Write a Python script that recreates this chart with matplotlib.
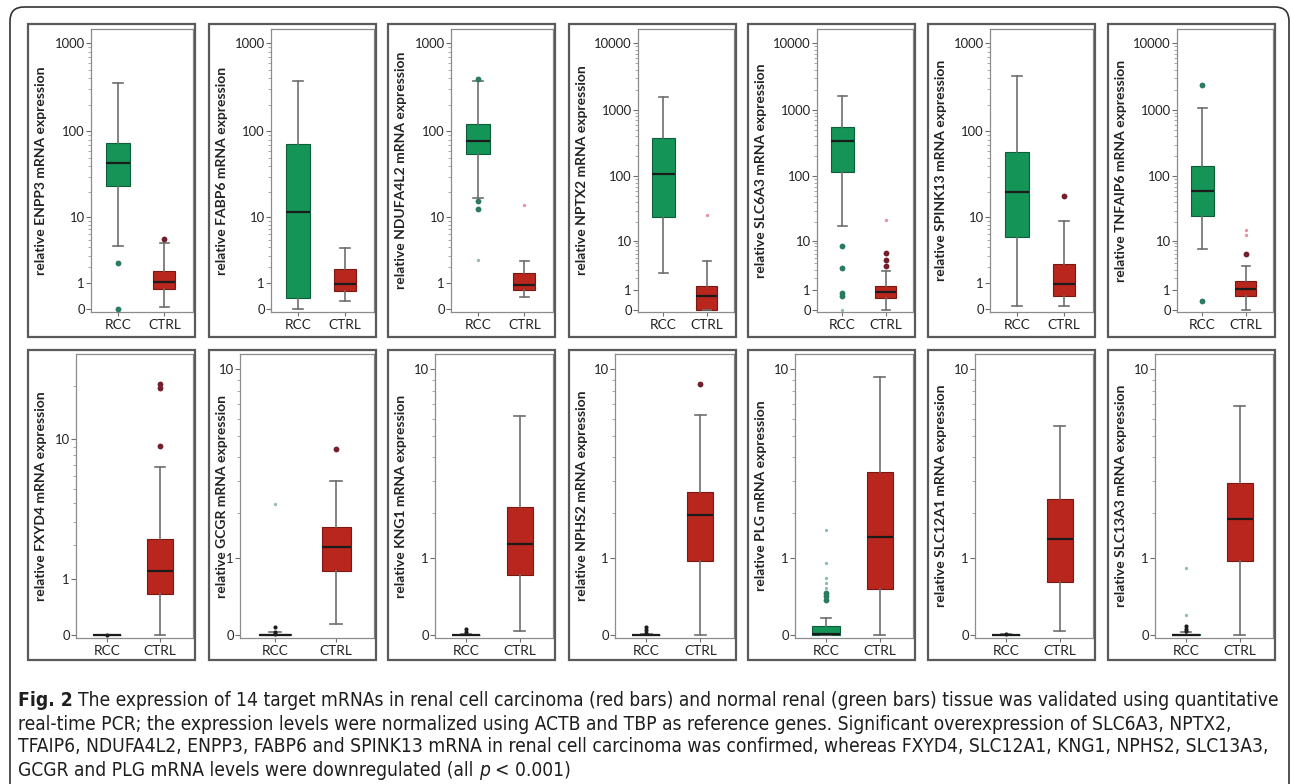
import numpy as np
import matplotlib
matplotlib.use("Agg")
import matplotlib.pyplot as plt
from matplotlib.patches import Rectangle, FancyBboxPatch
from matplotlib.transforms import IdentityTransform
from matplotlib.ticker import FixedLocator, FixedFormatter, NullFormatter

W, H = 1292, 784

# ---- data (relative expression, RCC vs CTRL) ----
genes_top = ["ENPP3", "FABP6", "NDUFA4L2", "NPTX2", "SLC6A3", "SPINK13", "TNFAIP6"]
genes_bot = ["FXYD4", "GCGR", "KNG1", "NPHS2", "PLG", "SLC12A1", "SLC13A3"]
genes = genes_top + genes_bot

# box stats: whisker low, q1, median, q3, whisker high
rcc_box = [
    [4.2, 23.8, 43.3, 73.5, 353],
    [0.0, 0.35, 11.6, 72, 375],
    [16.9, 56, 78, 122, 369],
    [2.56, 23.8, 109, 383, 1570],
    [17, 117, 341, 561, 1625],
    [0.09, 5.5, 20.2, 58, 430],
    [7.3, 25, 61, 143, 1085],
    [0, 0, 0, 0.005, 0.01],
    [0, 0, 0.005, 0.015, 0.03],
    [0, 0, 0, 0.005, 0.01],
    [0, 0, 0, 0.005, 0.01],
    [0, 0, 0.015, 0.085, 0.17],
    [0, 0, 0, 0.005, 0.01],
    [0, 0, 0.005, 0.015, 0.03],
]
ctrl_box = [
    [0.07, 0.68, 1.05, 1.73, 4.55],
    [0.25, 0.6, 0.93, 1.88, 3.88],
    [0.39, 0.65, 0.88, 1.55, 2.54],
    [0, 0, 0.62, 1.30, 4.34],
    [0, 0.5, 0.84, 1.32, 2.9],
    [0.1, 0.41, 0.91, 2.25, 9.0],
    [0, 0.62, 1.05, 1.76, 3.65],
    [0, 0.66, 1.19, 2.26, 6.77],
    [0.11, 0.78, 1.21, 1.66, 3.0],
    [0.04, 0.72, 1.27, 2.17, 6.2],
    [0, 0.95, 1.96, 2.63, 6.3],
    [0, 0.52, 1.42, 3.34, 9.2],
    [0.04, 0.61, 1.38, 2.41, 5.58],
    [0, 0.95, 1.85, 2.94, 6.9],
]
# outliers
rcc_out = [[2.3, 0], [], [392, 15.7, 12.5], [], [8.2, 3.24, 0.8, 0.65], [], [2350, 0.38],
           [], [], [], [], [0.46, 0.43, 0.37], [], []]
rcc_far = [[], [], [2.6], [], [0], [], [],
           [], [2.26], [], [], [1.58, 0.91, 0.67, 0.6, 0.53], [], [0.84, 0.2]]
rcc_low = [[], [], [], [], [], [], [],
           [0.0], [0.08, 0.03, 0.01], [0.06, 0.03], [0.08, 0.05, 0.02], [], [0.01], [0.09, 0.06, 0.04]]
ctrl_out = [[5.27], [], [], [], [6.2, 4.65, 3.64], [17.7], [5.9],
            [20.5, 19.5, 9.1], [4.37], [], [8.6], [], [], []]
ctrl_far = [[], [], [14.0], [26], [21.6], [], [14.6, 12.5],
            [], [], [], [], [], [], []]

groups = ["RCC", "CTRL"]
ymax = [1440, 1440, 1440, 16400, 16400, 1440, 16400,
        30, 11.6, 11.6, 11.6, 11.6, 11.6, 11.6]

caption_lines = [
    [("Fig. 2", "bold", "normal"),
     ("The expression of 14 target mRNAs in renal cell carcinoma (red bars) and normal renal "
      "(green bars) tissue was validated using quantitative", "normal", "normal")],
    [("real-time PCR; the expression levels were normalized using ACTB and TBP as reference "
      "genes. Significant overexpression of SLC6A3, NPTX2,", "normal", "normal")],
    [("TFAIP6, NDUFA4L2, ENPP3, FABP6 and SPINK13 mRNA in renal cell carcinoma was confirmed, "
      "whereas FXYD4, SLC12A1, KNG1, NPHS2, SLC13A3,", "normal", "normal")],
    [("GCGR and PLG mRNA levels were downregulated (all", "normal", "normal"),
     ("p", "normal", "italic"),
     ("< 0.001)", "normal", "normal")],
]

# ---- styling ----
GREEN, GREEN_EDGE, GREEN_PT = "#149557", "#0d5e38", "#2b7a62"
RED, RED_EDGE, RED_PT = "#b8261d", "#7c1812", "#74202c"
FONT = ["Lato", "DejaVu Sans"]
CAP_FONT = ["Liberation Sans Narrow", "DejaVu Sans"]


def fwd(v):
    return np.log10(np.clip(v, -0.99, None) + 1)


def inv(t):
    return 10 ** t - 1


fig = plt.figure(figsize=(W / 100, H / 100), dpi=100)
ident = IdentityTransform()

# outer rounded frame
fig.add_artist(FancyBboxPatch((10, -30), 1279, H - 7 + 30,
                              boxstyle="round,pad=0,rounding_size=14",
                              transform=ident, fill=False, ec="#333333", lw=1.2))

outer_left = [28, 209, 388, 569, 748, 928, 1108]
outer_w = 167
inner_left = [[91, 271, 451, 638, 817, 990, 1177],
              [76, 240, 435, 615, 795, 975, 1155]]
rows = [(24, 337, 29, 312), (350, 660, 354, 638)]

for i, gene in enumerate(genes):
    r, c = divmod(i, 7)
    oy0, oy1, iy0, iy1 = rows[r]
    ox0 = outer_left[c]
    fig.add_artist(Rectangle((ox0, H - oy1), outer_w, oy1 - oy0, transform=ident,
                             fill=False, ec="#5a5a5a", lw=1.6))
    ix0 = inner_left[r][c]
    ix1 = ox0 + outer_w - 2
    ax = fig.add_axes([ix0 / W, 1 - iy1 / H, (ix1 - ix0) / W, (iy1 - iy0) / H])
    ax.set_yscale("function", functions=(fwd, inv))

    for pos, box, fc, ec, wd in [(1, rcc_box[i], GREEN, GREEN_EDGE, 0.52),
                                 (2, ctrl_box[i], RED, RED_EDGE, 0.48)]:
        lo, q1, med, q3, hi = box
        ax.bxp([dict(whislo=lo, q1=q1, med=med, q3=q3, whishi=hi)], positions=[pos],
               widths=wd, capwidths=0.2, patch_artist=True, showfliers=False,
               manage_ticks=False,
               boxprops=dict(facecolor=fc, edgecolor=ec, lw=0.8),
               medianprops=dict(color="#1b1b1b", lw=1.6),
               whiskerprops=dict(color="#6e6e6e", lw=1.2),
               capprops=dict(color="#6e6e6e", lw=1.2))

    ax.plot([1] * len(rcc_out[i]), rcc_out[i], "o", ms=4.2, color=GREEN_PT, mec="none", zorder=4)
    ax.plot([1] * len(rcc_far[i]), rcc_far[i], "o", ms=2.4, color="#8fbfa8", mec="none", zorder=4)
    ax.plot([1] * len(rcc_low[i]), rcc_low[i], "o", ms=3.0, color="#1e1e1e", mec="none", zorder=4)
    ax.plot([2] * len(ctrl_out[i]), ctrl_out[i], "o", ms=4.2, color=RED_PT, mec="none", zorder=4)
    ax.plot([2] * len(ctrl_far[i]), ctrl_far[i], "o", ms=2.4, color="#ec8f9e", mec="none", zorder=4)

    top = ymax[i]
    lo_t = -0.03 if r == 0 else (-0.014 if top > 20 else -0.0105)
    ax.set_ylim(inv(lo_t), top)
    ax.set_xlim(0.42, 2.62)

    major = [0] + [10 ** k for k in range(0, 5) if 10 ** k < top]
    ax.yaxis.set_major_locator(FixedLocator(major))
    ax.yaxis.set_major_formatter(FixedFormatter([str(v) for v in major]))
    minor = [m * 10 ** k for k in range(0, 5) for m in range(2, 10) if m * 10 ** k < top]
    ax.yaxis.set_minor_locator(FixedLocator(minor))
    ax.yaxis.set_minor_formatter(NullFormatter())

    ax.set_xticks([1, 2])
    ax.set_xticklabels(groups, fontsize=9.8, family=FONT, color="#222222")
    for lab in ax.get_yticklabels():
        lab.set_family(FONT)
    ax.tick_params(axis="y", which="major", length=3.5, width=0.8, color="#6e6e6e",
                   labelsize=9.4, labelcolor="#222222", pad=0.8)
    ax.tick_params(axis="y", which="minor", length=2, width=0.6, color="#9a9a9a")
    ax.tick_params(axis="x", length=3, width=0.8, color="#6e6e6e", pad=2)
    for s in ax.spines.values():
        s.set_color("#8c8c8c")
        s.set_linewidth(0.9)

    fig.text((ox0 + 13) / W, 1 - (iy0 + iy1) / 2 / H, f"relative {gene} mRNA expression",
             rotation=90, ha="center", va="center", fontsize=10, fontweight="bold",
             family=FONT, color="#222222")

# ---- caption, drawn run by run ----
renderer = fig.canvas.get_renderer()


def text_width(s, size, weight="normal", style="normal"):
    t = fig.text(0, 0, s, fontsize=size, fontweight=weight, fontstyle=style,
                 fontstretch="condensed", family=CAP_FONT, transform=ident)
    w = t.get_window_extent(renderer).width
    t.remove()
    return w


base = 14
first_w = sum(text_width(s, base, w, st) for s, w, st in caption_lines[0])
space_w = text_width("x x", base) - text_width("xx", base)
first_w += space_w * (len(caption_lines[0]) - 1)
size = base * 1272 / first_w
space_w = text_width("x x", size) - text_width("xx", size)

line_y = [701, 724, 747, 770]
for runs, yc in zip(caption_lines, line_y):
    x = 18
    for s, w, st in runs:
        t = fig.text(x, H - yc, s, fontsize=size, fontweight=w, fontstyle=st,
                     fontstretch="condensed", family=CAP_FONT, transform=ident,
                     va="center", ha="left", color="#1e1e1e")
        x += t.get_window_extent(renderer).width + space_w

fig.savefig("out.png", dpi=100)
